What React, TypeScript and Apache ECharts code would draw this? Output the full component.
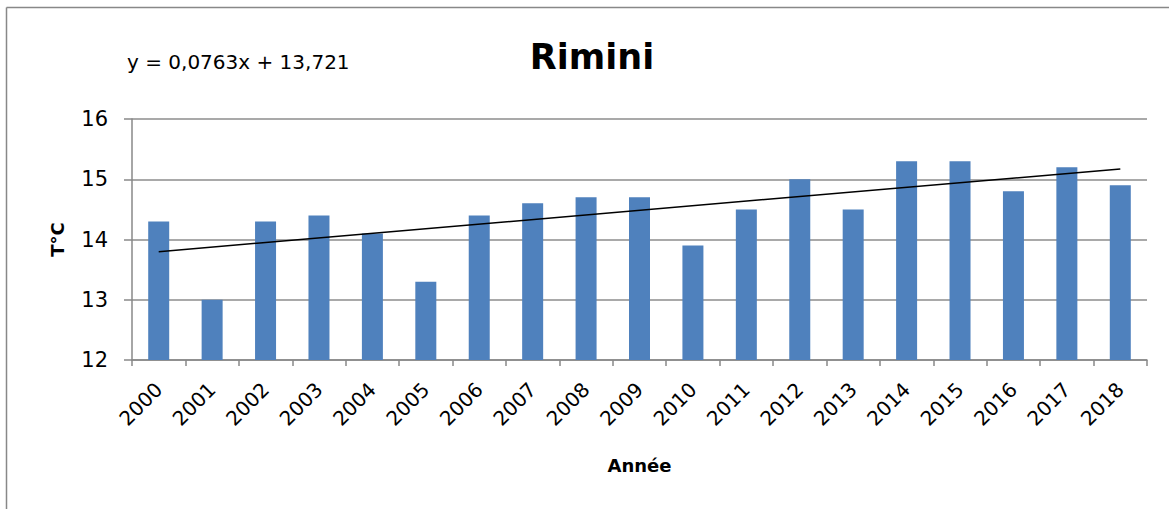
import React, { useEffect, useRef } from "react";
import * as echarts from "echarts";

const years = ["2000","2001","2002","2003","2004","2005","2006","2007","2008","2009","2010","2011","2012","2013","2014","2015","2016","2017","2018"];
const temps = [14.3,13.0,14.3,14.4,14.1,13.3,14.4,14.6,14.7,14.7,13.9,14.5,15.0,14.5,15.3,15.3,14.8,15.2,14.9];
const trendEnds = [13.797, 15.171];
const yTicks = [12, 13, 14, 15, 16];
const equationText = "y = 0,0763x + 13,721";

const FONT = "'DejaVu Sans', sans-serif";

export default function App() {
  const ref = useRef<HTMLDivElement>(null);
  useEffect(() => {
    document.body.style.margin = "0";
    const chart = echarts.init(ref.current!, null, { renderer: "svg" });
    chart.setOption({
      animation: false,
      backgroundColor: "#ffffff",
      title: {
        text: "Rimini",
        left: 587,
        top: 34,
        textAlign: "center",
        textStyle: { fontFamily: FONT, fontSize: 35, fontWeight: "bold", color: "#000" },
      },
      grid: { left: 132, right: 22, top: 119, bottom: 149 },
      xAxis: {
        type: "category",
        data: years,
        name: "Année",
        nameLocation: "middle",
        nameGap: 96,
        nameTextStyle: { fontFamily: FONT, fontSize: 18, fontWeight: "bold", color: "#000" },
        axisLine: { show: true, lineStyle: { color: "#888", width: 1.5 } },
        axisTick: { show: true, length: 6, alignWithLabel: false, lineStyle: { color: "#888", width: 1.5 } },
        axisLabel: { rotate: 45, fontFamily: FONT, fontSize: 20, color: "#000", margin: 26 },
        splitLine: { show: false },
      },
      yAxis: {
        type: "value",
        min: yTicks[0],
        max: yTicks[yTicks.length - 1],
        interval: 1,
        name: "T°C",
        nameLocation: "middle",
        nameGap: 66,
        nameRotate: 90,
        nameTextStyle: { fontFamily: FONT, fontSize: 18, fontWeight: "bold", color: "#000" },
        axisLine: { show: true, lineStyle: { color: "#888", width: 1.5 } },
        axisTick: { show: true, length: 8, lineStyle: { color: "#888", width: 1.5 } },
        axisLabel: { fontFamily: FONT, fontSize: 21, color: "#000", margin: 24 },
        splitLine: { show: true, lineStyle: { color: "#8c8c8c", width: 1.5 } },
      },
      series: [
        {
          type: "bar",
          data: temps,
          barWidth: 21,
          itemStyle: { color: "#4F81BD" },
          markLine: {
            symbol: ["none", "none"],
            silent: true,
            label: { show: false },
            lineStyle: { color: "#000", width: 1.5, type: "solid" },
            data: [[{ coord: [years[0], trendEnds[0]] }, { coord: [years[years.length - 1], trendEnds[1]] }]],
          },
        },
      ],
      graphic: [
        { type: "line", shape: { x1: 6.5, y1: 7.5, x2: 1169, y2: 7.5 }, style: { stroke: "#888", lineWidth: 1.5 } },
        { type: "line", shape: { x1: 6.5, y1: 7.5, x2: 6.5, y2: 509 }, style: { stroke: "#888", lineWidth: 1.5 } },
        {
          type: "text",
          left: 127,
          top: 52,
          style: { text: equationText, fontFamily: FONT, fontSize: 20, fill: "#000" },
        },
      ],
    });
    return () => chart.dispose();
  }, []);
  return <div ref={ref} style={{ width: 1169, height: 509, position: "absolute", left: 0, top: 0 }} />;
}
